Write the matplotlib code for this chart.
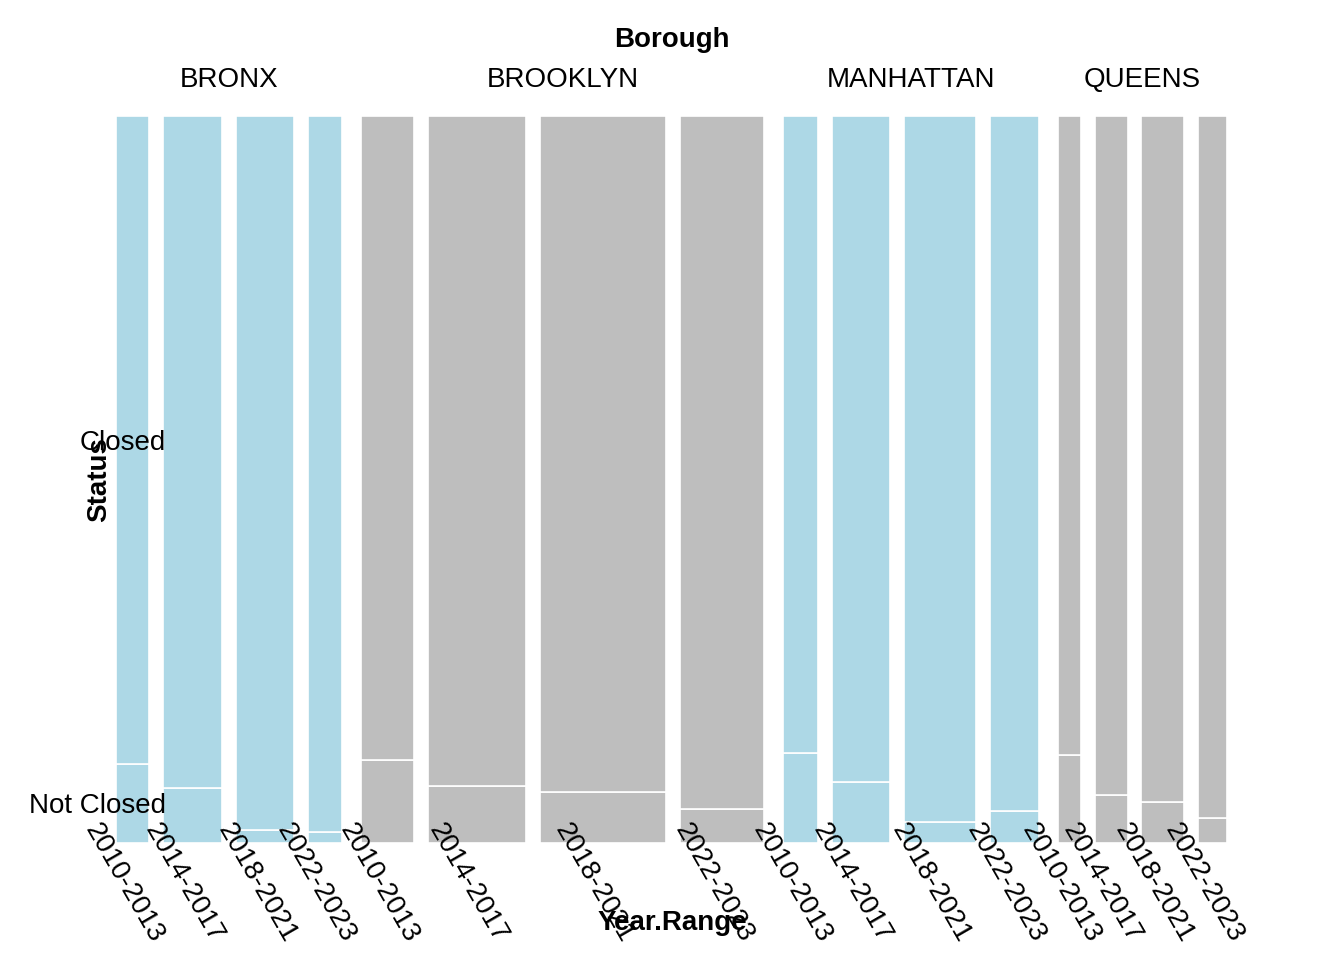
import matplotlib
matplotlib.use("Agg")
import matplotlib.pyplot as plt
import matplotlib.transforms as mtrans

plt.rcParams['font.family'] = ['Liberation Sans', 'DejaVu Sans']

boroughs = ["BRONX", "BROOKLYN", "MANHATTAN", "QUEENS"]
years = ["2010-2013", "2014-2017", "2018-2021", "2022-2023"]
# relative counts per year range (column widths)
counts = {
    "BRONX": [33, 60, 58, 34],
    "BROOKLYN": [54, 98, 127, 85],
    "MANHATTAN": [35, 58, 73, 49],
    "QUEENS": [23, 33, 43, 29],
}
# share of "Not Closed" in each column
not_closed = {
    "BRONX": [0.109, 0.076, 0.018, 0.015],
    "BROOKLYN": [0.114, 0.078, 0.070, 0.047],
    "MANHATTAN": [0.124, 0.084, 0.029, 0.044],
    "QUEENS": [0.121, 0.066, 0.056, 0.034],
}
colors = {"BRONX": "#ADD8E6", "BROOKLYN": "#BEBEBE",
          "MANHATTAN": "#ADD8E6", "QUEENS": "#BEBEBE"}

gap_in, gap_out = 14, 19
fs = 20

fig = plt.figure(figsize=(13.44, 9.6), dpi=100)
ax = fig.add_axes([116/1344, 117/960, 1111/1344, 727/960])

x = 0
centers = []
group_mid = []
for b in boroughs:
    start = x
    for i, w in enumerate(counts[b]):
        nc = not_closed[b][i]
        ax.bar(x, nc, width=w, bottom=0, align='edge', color=colors[b],
               edgecolor='white', linewidth=1.2)
        ax.bar(x, 1 - nc, width=w, bottom=nc, align='edge', color=colors[b],
               edgecolor='white', linewidth=1.2)
        centers.append(x + w / 2)
        x += w + gap_in
    end = x - gap_in
    group_mid.append((start + end) / 2)
    x = end + gap_out
ax.set_xlim(0, x - gap_out)
ax.set_ylim(0, 1)
for s in ax.spines.values():
    s.set_visible(False)
ax.set_xticks([])
ax.set_yticks([not_closed["BRONX"][0] / 2, (1 + not_closed["BRONX"][0]) / 2])
ax.set_yticklabels(["Not Closed", "Closed"], fontsize=fs)
ax.tick_params(axis='y', length=0, pad=-36)
ax.set_ylabel("Status", fontsize=fs, fontweight='bold', labelpad=-60)

tr = mtrans.blended_transform_factory(ax.transData, ax.transAxes)
off = mtrans.offset_copy(tr, fig=fig, x=-42, y=-12, units='dots')
k = 0
for b in boroughs:
    for yl in years:
        ax.text(centers[k], 0.04, yl, transform=off, rotation=-60,
                rotation_mode='anchor', ha='left', va='center', fontsize=fs)
        k += 1

for m, b in zip(group_mid, boroughs):
    ax.text(m, 1.05, b, transform=tr, ha='center', va='center', fontsize=fs)
fig.text(672/1344, 1 - 40/960, "Borough", ha='center', va='center',
         fontsize=fs, fontweight='bold')
fig.text(672/1344, 1 - 923/960, "Year.Range", ha='center', va='center',
         fontsize=fs, fontweight='bold')

fig.savefig("out.png", dpi=100)
